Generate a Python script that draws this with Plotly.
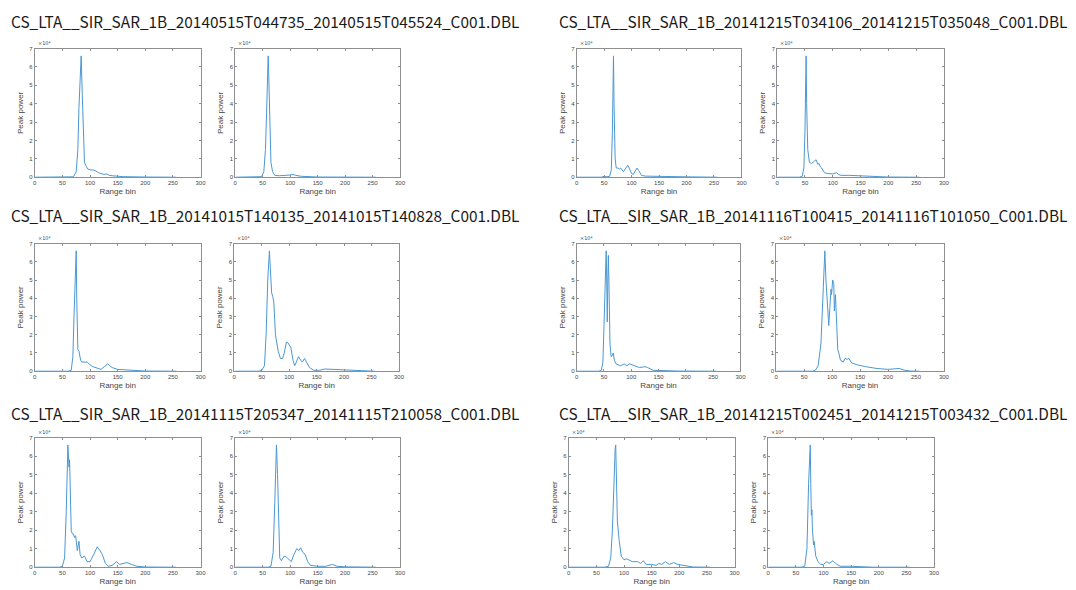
import plotly.graph_objects as go

# Granule names (one per pair of waveforms)
titles = [
    "CS_LTA__SIR_SAR_1B_20140515T044735_20140515T045524_C001.DBL",
    "CS_LTA__SIR_SAR_1B_20141215T034106_20141215T035048_C001.DBL",
    "CS_LTA__SIR_SAR_1B_20141015T140135_20141015T140828_C001.DBL",
    "CS_LTA__SIR_SAR_1B_20141116T100415_20141116T101050_C001.DBL",
    "CS_LTA__SIR_SAR_1B_20141115T205347_20141115T210058_C001.DBL",
    "CS_LTA__SIR_SAR_1B_20141215T002451_20141215T003432_C001.DBL",
]

x_ticks = [0, 50, 100, 150, 200, 250, 300]
y_ticks = [0, 1, 2, 3, 4, 5, 6, 7]

# Peak power waveforms (power in units of 1e4) vs. range bin
bin_a1 = [1, 60, 70, 75, 78, 80, 82, 84, 86, 88, 90, 93, 96, 100, 105, 110, 115, 120, 125, 130, 135, 140, 150, 160, 200, 256]
pow_a1 = [0, 0, 0.02, 0.3, 1.5, 3.8, 5.8, 6.6, 4.5, 1.8, 0.8, 0.6, 0.45, 0.4, 0.4, 0.35, 0.25, 0.2, 0.15, 0.18, 0.1, 0.08, 0.06, 0.03, 0.01, 0]

bin_a2 = [1, 40, 48, 52, 55, 57, 59, 60, 61, 63, 65, 68, 72, 80, 90, 100, 105, 110, 120, 130, 150, 256]
pow_a2 = [0, 0, 0.03, 0.3, 1.5, 3.5, 5.8, 6.6, 5.5, 2.5, 0.8, 0.3, 0.1, 0.08, 0.08, 0.12, 0.15, 0.1, 0.05, 0.03, 0.01, 0]

bin_b1 = [1, 45, 50, 55, 60, 63, 65, 66, 67, 68, 70, 72, 75, 78, 80, 85, 89, 93, 97, 100, 103, 107, 110, 113, 118, 125, 150, 200, 256]
pow_b1 = [0, 0, 0.05, 0.02, 0.05, 0.4, 2.5, 5.0, 6.6, 4.0, 1.0, 0.5, 0.5, 0.45, 0.5, 0.3, 0.45, 0.65, 0.4, 0.2, 0.15, 0.35, 0.5, 0.35, 0.1, 0.06, 0.04, 0.02, 0]

bin_b2 = [1, 40, 45, 48, 50, 51, 52, 53, 55, 58, 62, 66, 70, 73, 75, 78, 80, 85, 90, 100, 107, 110, 115, 130, 150, 165, 200, 256]
pow_b2 = [0, 0, 0.05, 0.5, 2.5, 5.0, 6.6, 4.0, 1.5, 0.8, 0.75, 0.85, 0.95, 0.7, 0.75, 0.55, 0.5, 0.25, 0.2, 0.18, 0.25, 0.15, 0.1, 0.1, 0.08, 0.05, 0.01, 0]

bin_c1 = [1, 60, 66, 69, 71, 73, 75, 76, 77, 78, 80, 83, 85, 90, 95, 97, 100, 105, 110, 115, 120, 126, 132, 136, 140, 150, 170, 200, 256]
pow_c1 = [0, 0, 0.05, 0.8, 3.0, 5.5, 6.6, 4.0, 1.8, 1.2, 1.1, 0.6, 0.5, 0.5, 0.5, 0.45, 0.35, 0.25, 0.2, 0.15, 0.1, 0.25, 0.4, 0.3, 0.2, 0.1, 0.05, 0.01, 0]

bin_c2 = [1, 45, 50, 55, 58, 61, 64, 66, 68, 70, 72, 75, 78, 80, 84, 88, 91, 95, 98, 101, 103, 107, 110, 113, 117, 121, 124, 128, 132, 137, 145, 155, 165, 180, 200, 210, 256]
pow_c2 = [0, 0, 0.05, 0.3, 2.0, 5.0, 6.6, 5.0, 4.3, 4.1, 3.8, 2.0, 1.3, 1.1, 0.7, 0.7, 1.0, 1.6, 1.55, 1.4, 1.3, 0.6, 0.3, 0.5, 0.8, 0.6, 0.5, 0.7, 0.5, 0.2, 0.05, 0.05, 0.12, 0.1, 0.05, 0.02, 0]

bin_d1 = [1, 40, 45, 48, 50, 52, 54, 55, 56, 57, 58, 59, 60, 61, 63, 65, 67, 69, 72, 80, 87, 92, 97, 105, 115, 125, 130, 140, 160, 185, 256]
pow_d1 = [0, 0, 0.05, 0.5, 2.5, 5.5, 6.6, 5.0, 2.7, 5.0, 6.35, 5.0, 3.0, 1.5, 0.8, 0.85, 1.0, 0.6, 0.4, 0.3, 0.4, 0.3, 0.4, 0.3, 0.2, 0.25, 0.2, 0.05, 0.05, 0.01, 0]

bin_d2 = [1, 65, 70, 75, 80, 83, 87, 89, 92, 94, 96, 98, 99, 101, 103, 104, 106, 107, 110, 112, 115, 120, 123, 127, 130, 135, 145, 160, 168, 180, 200, 220, 230, 240, 256]
pow_d2 = [0, 0, 0.05, 0.3, 1.5, 4.0, 6.6, 5.0, 3.0, 2.5, 3.5, 4.5, 4.2, 5.0, 4.8, 3.3, 4.2, 3.5, 1.2, 1.0, 0.6, 0.5, 0.7, 0.65, 0.7, 0.45, 0.35, 0.25, 0.2, 0.15, 0.1, 0.15, 0.05, 0.01, 0]

bin_e1 = [1, 45, 50, 54, 57, 60, 62, 63, 66, 68, 70, 72, 74, 77, 80, 82, 85, 90, 95, 100, 107, 113, 118, 122, 128, 133, 140, 148, 153, 160, 167, 175, 185, 200, 256]
pow_e1 = [0, 0, 0.05, 0.5, 3.0, 6.6, 5.4, 5.8, 2.0, 1.8, 1.8, 1.6, 1.7, 0.9, 1.4, 0.7, 0.5, 0.6, 0.3, 0.3, 0.7, 1.1, 0.9, 0.7, 0.2, 0.05, 0.1, 0.3, 0.15, 0.2, 0.25, 0.15, 0.05, 0.01, 0]

bin_e2 = [1, 60, 65, 69, 72, 75, 77, 79, 81, 84, 89, 93, 97, 102, 107, 112, 116, 119, 123, 127, 132, 137, 150, 165, 177, 185, 200, 256]
pow_e2 = [0, 0, 0.05, 0.8, 3.5, 6.6, 5.0, 2.0, 0.5, 0.35, 0.6, 0.55, 0.45, 0.3, 0.7, 1.0, 0.9, 1.05, 0.8, 0.7, 0.3, 0.1, 0.05, 0.05, 0.15, 0.05, 0.02, 0]

bin_f1 = [1, 65, 72, 76, 79, 82, 84, 85, 86, 88, 91, 95, 100, 105, 115, 125, 130, 135, 140, 150, 158, 163, 168, 175, 182, 190, 197, 205, 215, 225, 256]
pow_f1 = [0, 0, 0.05, 0.5, 2.0, 5.0, 6.4, 6.6, 5.0, 2.5, 1.5, 0.6, 0.4, 0.45, 0.3, 0.3, 0.2, 0.35, 0.15, 0.15, 0.1, 0.2, 0.15, 0.3, 0.15, 0.25, 0.15, 0.1, 0.05, 0.01, 0]

bin_f2 = [1, 60, 66, 70, 73, 75, 76, 77, 78, 79, 80, 82, 83, 86, 90, 95, 100, 106, 110, 117, 122, 130, 150, 170, 190, 256]
pow_f2 = [0, 0, 0.05, 1.0, 4.5, 6.4, 6.6, 4.5, 2.8, 3.1, 2.0, 1.2, 1.4, 0.6, 0.3, 0.15, 0.15, 0.3, 0.2, 0.35, 0.2, 0.05, 0.05, 0.03, 0, 0]

series = [
    (bin_a1, pow_a1), (bin_a2, pow_a2), (bin_b1, pow_b1), (bin_b2, pow_b2),
    (bin_c1, pow_c1), (bin_c2, pow_c2), (bin_d1, pow_d1), (bin_d2, pow_d2),
    (bin_e1, pow_e1), (bin_e2, pow_e2), (bin_f1, pow_f1), (bin_f2, pow_f2),
]

W, H = 1076, 590
# panel boxes in pixels: (left, right, top, bottom)
boxes = [
    (33, 200, 46, 176), (235, 401, 46, 176), (579, 745, 46, 176), (781, 949, 46, 176),
    (33, 200, 243, 372), (234, 400, 243, 372), (579, 744, 243, 372), (780, 949, 243, 372),
    (33, 200, 439, 570), (235, 401, 439, 570), (571, 738, 439, 570), (772, 939, 439, 570),
]
title_pos = [(7, 18), (559, 18), (7, 214), (559, 214), (7, 414), (559, 414)]

LINE = "#4a98d3"
AX = "#8f8f8f"
TXT = "#474747"

fig = go.Figure()
layout = dict(
    width=W, height=H, margin=dict(l=0, r=0, t=0, b=0),
    paper_bgcolor="white", plot_bgcolor="white", showlegend=False,
)
annotations = []

for i, ((xs, ys), (l, r, t, b)) in enumerate(zip(series, boxes)):
    n = i + 1
    xa = "x" if n == 1 else f"x{n}"
    ya = "y" if n == 1 else f"y{n}"
    fig.add_trace(go.Scatter(x=xs, y=ys, mode="lines", xaxis=xa, yaxis=ya,
                             line=dict(color=LINE, width=1), hoverinfo="skip"))
    common = dict(showgrid=False, zeroline=False, showline=True, linecolor=AX, linewidth=1,
                  mirror="ticks", ticks="inside", ticklen=2, tickcolor=AX,
                  tickfont=dict(family="Liberation Sans", size=6, color=TXT))
    layout["xaxis" if n == 1 else f"xaxis{n}"] = dict(
        common, domain=[l / W, r / W], range=[0, 300], tickvals=x_ticks,
        anchor=ya, title=dict(text="Range bin", standoff=2,
                              font=dict(family="Liberation Sans", size=8, color=TXT)))
    layout["yaxis" if n == 1 else f"yaxis{n}"] = dict(
        common, domain=[1 - b / H, 1 - t / H], range=[0, 7], tickvals=y_ticks,
        anchor=xa, title=dict(text="Peak power", standoff=4,
                              font=dict(family="Liberation Sans", size=8, color=TXT)))
    # exponent marker for the power axis
    annotations.append(dict(
        text="×10⁴", x=(l + 1) / W, y=1 - (t - 1) / H, xref="paper", yref="paper",
        xanchor="left", yanchor="bottom", showarrow=False,
        font=dict(family="DejaVu Sans", size=5, color=TXT)))

for text, (tx, ty) in zip(titles, title_pos):
    annotations.append(dict(
        text=text, x=tx / W, y=1 - ty / H, xref="paper", yref="paper",
        xanchor="left", yanchor="middle", showarrow=False,
        font=dict(family="Noto Sans CJK KR", size=15.4, color="#1a1a1a")))

layout["annotations"] = annotations
fig.update_layout(**layout)
fig.write_html("out.html")
